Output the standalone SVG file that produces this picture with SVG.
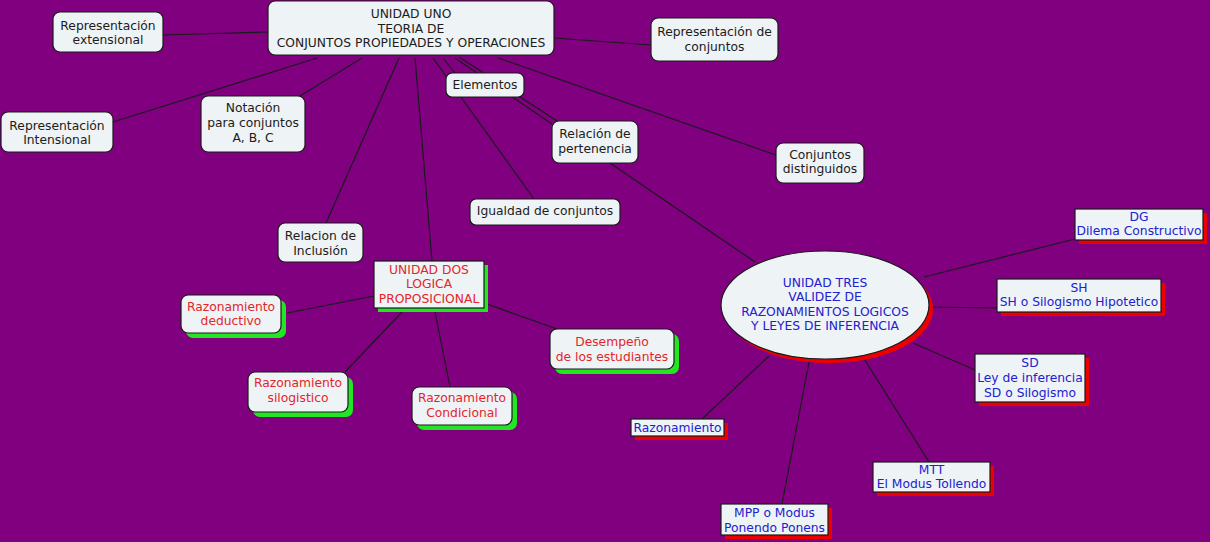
<svg xmlns="http://www.w3.org/2000/svg" width="1210" height="542" viewBox="0 0 1210 542">
<style>
text{font-family:"DejaVu Sans","Verdana",sans-serif;font-size:12.3px;text-anchor:middle}
.k{fill:#1c1c1c}
.r{fill:#e3262c}
.b{fill:#2121d2}
.box{fill:#eef3f5;stroke:#1a1a1a;stroke-width:1.2}
.gs{fill:#22e622}
.rs{fill:#ee0000}
#connectors line{stroke:#1a1a1a;stroke-width:1.2}
</style>
<rect width="1210" height="542" fill="#800080"/>
<g id="connectors">
<line x1="268" y1="32" x2="162" y2="35"/>
<line x1="554" y1="38" x2="651" y2="45"/>
<line x1="317" y1="58" x2="113" y2="122"/>
<line x1="362" y1="58" x2="300" y2="96"/>
<line x1="399" y1="58" x2="326" y2="223"/>
<line x1="415" y1="58" x2="432" y2="261"/>
<line x1="433" y1="58" x2="534" y2="199"/>
<line x1="443" y1="58" x2="455" y2="73"/>
<line x1="455" y1="58" x2="552" y2="124"/>
<line x1="459" y1="57" x2="557" y2="121"/>
<line x1="498" y1="58" x2="776" y2="155"/>
<line x1="610" y1="163" x2="755" y2="262"/>
<line x1="287" y1="313" x2="374" y2="296"/>
<line x1="345" y1="372" x2="403" y2="311"/>
<line x1="450" y1="387" x2="434" y2="307"/>
<line x1="557" y1="329" x2="484" y2="303"/>
<line x1="924" y1="277" x2="1075" y2="239"/>
<line x1="929" y1="307" x2="997" y2="308"/>
<line x1="913" y1="343" x2="975" y2="370"/>
<line x1="769" y1="356" x2="702" y2="419"/>
<line x1="810" y1="357" x2="782" y2="504"/>
<line x1="863" y1="357" x2="929" y2="462"/>
</g>
<g id="unidad-uno">
<rect class="box" x="268" y="1" width="286" height="54" rx="7"/>
<text class="k" x="411" y="18">UNIDAD UNO</text>
<text class="k" x="411" y="33">TEORIA DE</text>
<text class="k" x="411" y="47">CONJUNTOS PROPIEDADES Y OPERACIONES</text>
</g>
<g id="rep-extensional">
<rect class="box" x="53" y="12" width="110" height="40" rx="7"/>
<text class="k" x="108" y="30">Representación</text>
<text class="k" x="108" y="44">extensional</text>
</g>
<g id="rep-conjuntos">
<rect class="box" x="651" y="18" width="127" height="43" rx="7"/>
<text class="k" x="714.5" y="36">Representación de</text>
<text class="k" x="714.5" y="51">conjuntos</text>
</g>
<g id="elementos">
<rect class="box" x="446" y="73" width="78" height="24" rx="6"/>
<text class="k" x="485" y="89">Elementos</text>
</g>
<g id="notacion">
<rect class="box" x="201" y="96" width="104" height="56" rx="7"/>
<text class="k" x="253" y="112">Notación</text>
<text class="k" x="253" y="127">para conjuntos</text>
<text class="k" x="253" y="142">A, B, C</text>
</g>
<g id="rep-intensional">
<rect class="box" x="1" y="112" width="112" height="40" rx="7"/>
<text class="k" x="57" y="130">Representación</text>
<text class="k" x="57" y="144">Intensional</text>
</g>
<g id="relacion-pertenencia">
<rect class="box" x="552" y="121" width="86" height="42" rx="7"/>
<text class="k" x="595" y="138">Relación de</text>
<text class="k" x="595" y="153">pertenencia</text>
</g>
<g id="conjuntos-distinguidos">
<rect class="box" x="776" y="143" width="88" height="40" rx="7"/>
<text class="k" x="820" y="159">Conjuntos</text>
<text class="k" x="820" y="173">distinguidos</text>
</g>
<g id="igualdad">
<rect class="box" x="470" y="199" width="150" height="26" rx="6"/>
<text class="k" x="545" y="215">Igualdad de conjuntos</text>
</g>
<g id="inclusion">
<rect class="box" x="278" y="223" width="85" height="39" rx="7"/>
<text class="k" x="320.5" y="240">Relacion de</text>
<text class="k" x="320.5" y="255">Inclusión</text>
</g>
<g id="unidad-dos">
<rect class="gs" x="378" y="265" width="110" height="47"/>
<rect class="box" x="374" y="261" width="110" height="47"/>
<text class="r" x="429" y="274">UNIDAD DOS</text>
<text class="r" x="429" y="288">LOGICA</text>
<text class="r" x="429" y="303">PROPOSICIONAL</text>
</g>
<g id="raz-deductivo">
<rect class="gs" x="186" y="300" width="100" height="38" rx="7"/>
<rect class="box" x="181" y="295" width="100" height="38" rx="7"/>
<text class="r" x="231" y="311">Razonamiento</text>
<text class="r" x="231" y="325">deductivo</text>
</g>
<g id="raz-silogistico">
<rect class="gs" x="253" y="377" width="100" height="40" rx="7"/>
<rect class="box" x="248" y="372" width="100" height="40" rx="7"/>
<text class="r" x="298" y="387">Razonamiento</text>
<text class="r" x="298" y="402">silogistico</text>
</g>
<g id="raz-condicional">
<rect class="gs" x="417" y="392" width="100" height="38" rx="7"/>
<rect class="box" x="412" y="387" width="100" height="38" rx="7"/>
<text class="r" x="462" y="402">Razonamiento</text>
<text class="r" x="462" y="417">Condicional</text>
</g>
<g id="desempeno">
<rect class="gs" x="555" y="334" width="124" height="40" rx="7"/>
<rect class="box" x="550" y="329" width="124" height="40" rx="7"/>
<text class="r" x="612" y="346">Desempeño</text>
<text class="r" x="612" y="361">de los estudiantes</text>
</g>
<g id="unidad-tres">
<ellipse class="rs" cx="829" cy="309" rx="104" ry="54"/>
<ellipse class="box" cx="825" cy="305" rx="104" ry="54"/>
<text class="b" x="825" y="287">UNIDAD TRES</text>
<text class="b" x="825" y="301">VALIDEZ DE</text>
<text class="b" x="825" y="316">RAZONAMIENTOS LOGICOS</text>
<text class="b" x="825" y="330">Y LEYES DE INFERENCIA</text>
</g>
<g id="dg">
<rect class="rs" x="1079" y="213" width="128" height="31"/>
<rect class="box" x="1075" y="209" width="128" height="31"/>
<text class="b" x="1139" y="221">DG</text>
<text class="b" x="1139" y="235">Dilema Constructivo</text>
</g>
<g id="sh">
<rect class="rs" x="1001" y="283" width="164" height="33"/>
<rect class="box" x="997" y="279" width="164" height="33"/>
<text class="b" x="1079" y="292">SH</text>
<text class="b" x="1079" y="306">SH o Silogismo Hipotetico</text>
</g>
<g id="sd">
<rect class="rs" x="979" y="358" width="110" height="48"/>
<rect class="box" x="975" y="354" width="110" height="48"/>
<text class="b" x="1030" y="367">SD</text>
<text class="b" x="1030" y="382">Ley de inferencia</text>
<text class="b" x="1030" y="397">SD o Silogismo</text>
</g>
<g id="razonamiento">
<rect class="rs" x="635" y="423" width="93" height="17"/>
<rect class="box" x="631" y="419" width="93" height="17"/>
<text class="b" x="677.5" y="432">Razonamiento</text>
</g>
<g id="mtt">
<rect class="rs" x="877" y="466" width="117" height="30"/>
<rect class="box" x="873" y="462" width="117" height="30"/>
<text class="b" x="931.5" y="474">MTT</text>
<text class="b" x="931.5" y="488">El Modus Tollendo</text>
</g>
<g id="mpp">
<rect class="rs" x="725" y="508" width="107" height="31"/>
<rect class="box" x="721" y="504" width="107" height="31"/>
<text class="b" x="774.5" y="517">MPP o Modus</text>
<text class="b" x="774.5" y="532">Ponendo Ponens</text>
</g>
</svg>
